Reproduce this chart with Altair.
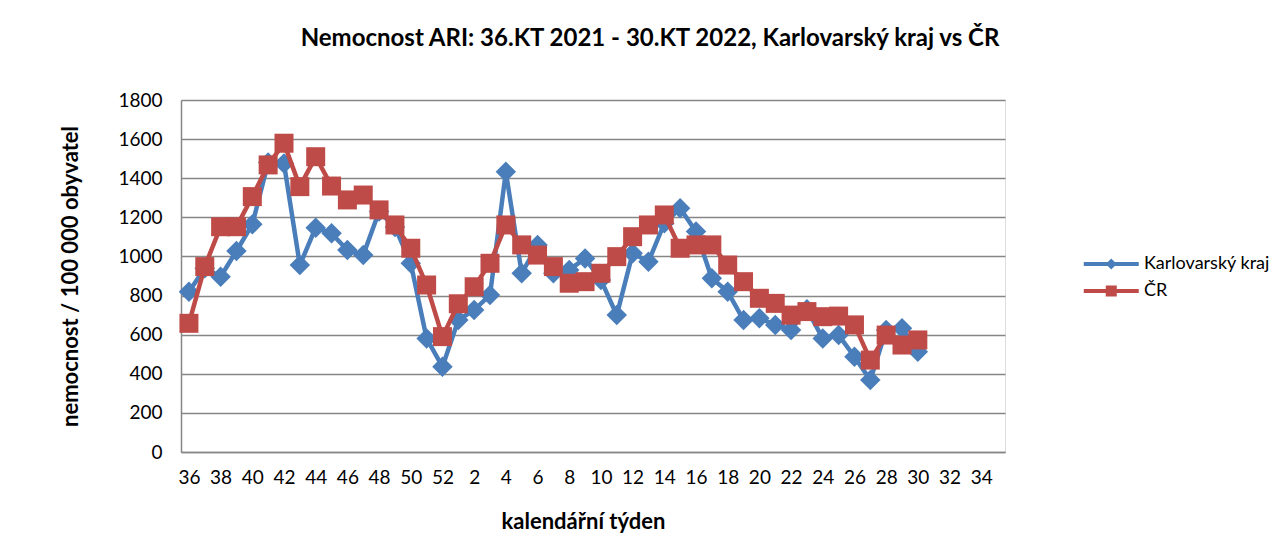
import altair as alt
import pandas as pd

weeks = [str(w) for w in range(36, 53)] + [str(w) for w in range(1, 36)]
tick_weeks = [str(w) for w in range(36, 53, 2)] + [str(w) for w in range(2, 36, 2)]
data_weeks = weeks[:47]  # 36.KT 2021 .. 30.KT 2022

karlovarsky = [820, 940, 896, 1028, 1164, 1480, 1475, 956, 1147, 1118, 1033, 1007,
               1230, 1150, 965, 581, 436, 675, 726, 803, 1433, 914, 1059, 914, 931,
               990, 880, 700, 1016, 973, 1170, 1246, 1127, 888, 820, 675, 684, 650,
               624, 730, 581, 598, 487, 368, 624, 633, 513]
cr = [658, 948, 1152, 1152, 1306, 1468, 1579, 1357, 1510, 1360, 1289, 1314, 1238,
      1161, 1042, 854, 590, 758, 845, 965, 1161, 1059, 1007, 948, 863, 871, 914, 999,
      1101, 1161, 1212, 1042, 1059, 1059, 956, 871, 786, 760, 700, 718, 692, 695, 650,
      470, 598, 547, 573]

series_names = ["Karlovarský kraj", "ČR"]
colors = ["#4A7EBB", "#BE4B48"]
y_ticks = list(range(0, 1801, 200))

df = pd.DataFrame({
    "week": data_weeks * 2,
    "value": karlovarsky + cr,
    "series": [series_names[0]] * len(karlovarsky) + [series_names[1]] * len(cr),
})

FONT = "Lato"

x_enc = alt.X("week:O", scale=alt.Scale(domain=weeks, type="point", padding=0.5),
              sort=weeks,
              axis=alt.Axis(values=tick_weeks, labelAngle=0, ticks=False, labelPadding=16,
                            labelFontSize=19, labelFont=FONT, labelColor="#000000",
                            domainColor="#868686", domainWidth=1.5, grid=False,
                            title="kalendářní týden", titleFontSize=22, titleFont=FONT,
                            titleFontWeight="bold", titleColor="#000000",
                            titleX=402, titleY=69, titleBaseline="middle"))
y_enc = alt.Y("value:Q", scale=alt.Scale(domain=[0, 1800], nice=False, zero=True),
              axis=alt.Axis(values=y_ticks, format="d", ticks=False, labelPadding=19,
                            labelFontSize=19, labelFont=FONT, labelColor="#000000",
                            domainColor="#868686", domainWidth=1.5,
                            gridColor="#868686", gridWidth=1.5,
                            title="nemocnost / 100 000 obyvatel", titleFontSize=22,
                            titleFont=FONT, titleFontWeight="bold", titleColor="#000000",
                            titleAngle=-90, titleX=-111, titleY=176,
                            titleBaseline="middle"))

base = alt.Chart(df).encode(x=x_enc, y=y_enc)

layers = []
shapes = ["diamond", "square"]
sizes = [420, 361]
for name, col, shp, sz in zip(series_names, colors, shapes, sizes):
    sub = base.transform_filter(alt.datum.series == name)
    layers.append(sub.mark_line(strokeWidth=4.5, color=col))
    layers.append(sub.mark_point(shape=shp, size=sz, filled=True, opacity=1, color=col))

diamond_legend = "M-3,-0.15L1,-0.15L1,0.15L-3,0.15Z M-1,-0.4L-0.6,0L-1,0.4L-1.4,0Z"
square_legend = "M-3,-0.15L1,-0.15L1,0.15L-3,0.15Z M-1.4,-0.4L-0.6,-0.4L-0.6,0.4L-1.4,0.4Z"

legend_cfg = dict(orient="none", legendX=930, legendY=150, title=None,
                  labelFontSize=18, labelFont=FONT, labelColor="#000000",
                  symbolSize=756, labelOffset=5, rowPadding=4,
                  symbolOpacity=1, symbolStrokeWidth=0)

legend_layer = base.mark_point(filled=True, opacity=0).encode(
    color=alt.Color("series:N", scale=alt.Scale(domain=series_names, range=colors),
                    legend=alt.Legend(**legend_cfg)),
    shape=alt.Shape("series:N", scale=alt.Scale(domain=series_names,
                                                range=[diamond_legend, square_legend]),
                    legend=alt.Legend(**legend_cfg)),
)

chart = alt.layer(*layers, legend_layer).properties(
    width=824, height=352,
    autosize=alt.AutoSizeParams(type="none"),
    padding={"left": 173, "top": 92, "right": 272, "bottom": 81},
    title=alt.TitleParams("Nemocnost ARI: 36.KT 2021 - 30.KT 2022, Karlovarský kraj vs ČR",
                          anchor="middle", dx=57, offset=40, fontSize=24, font=FONT,
                          fontWeight="bold", color="#000000"),
).configure_view(stroke=None).configure(background="#ffffff")

chart.save("out.html", embed_options={"renderer": "svg", "actions": False})
